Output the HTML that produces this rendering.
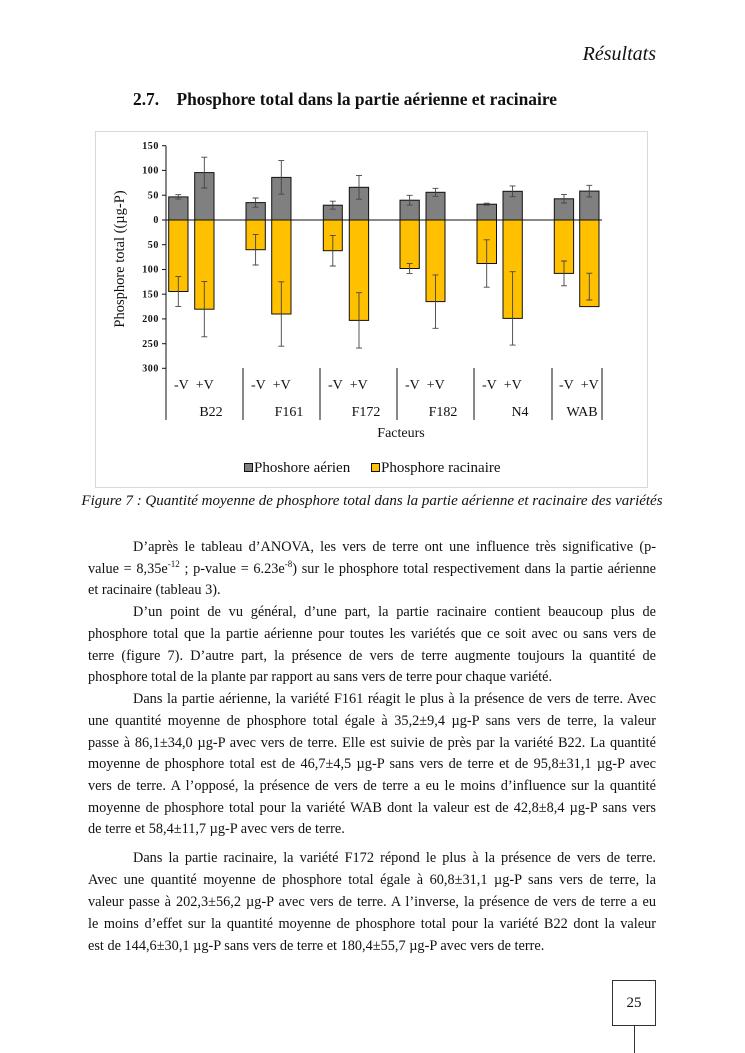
<!DOCTYPE html>
<html><head><meta charset="utf-8"><style>
body{margin:0;background:#fff;}
#p{position:relative;width:745px;height:1053px;overflow:hidden;font-family:"Liberation Serif",serif;color:#111;}
.l{position:absolute;left:88px;width:568px;font-size:14.3px;line-height:16px;text-align:justify;text-align-last:justify;white-space:nowrap;}
.l.n{text-align-last:left;}
.i{text-indent:45px;}
sup{font-size:9px;line-height:0;}
</style></head><body><div id="p">
<div style="position:absolute;right:89px;top:43px;font-size:20px;font-style:italic;">Résultats</div>
<div style="position:absolute;left:133px;top:89px;font-size:17.4px;font-weight:bold;">2.7.&nbsp;&nbsp;&nbsp;&nbsp;Phosphore total dans la partie aérienne et racinaire</div>
<svg style="position:absolute;left:0;top:0" width="745" height="520">
<rect x="95.5" y="131.5" width="552" height="356" fill="none" stroke="#d9d9d9"/>
<g font-family="Liberation Serif" font-weight="bold" font-size="10" text-anchor="end" fill="#111" letter-spacing="0.6">
<text x="159" y="149">150</text><text x="159" y="173.7">100</text><text x="159" y="198.4">50</text><text x="159" y="223.2">0</text><text x="159" y="247.9">50</text><text x="159" y="272.6">100</text><text x="159" y="297.4">150</text><text x="159" y="322.1">200</text><text x="159" y="346.8">250</text><text x="159" y="371.6">300</text>
</g>
<g stroke="#111" stroke-width="1">
<line x1="166" y1="145.7" x2="166" y2="420"/>
<line x1="162" y1="145.7" x2="166" y2="145.7"/><line x1="162" y1="170.4" x2="166" y2="170.4"/><line x1="162" y1="195.2" x2="166" y2="195.2"/><line x1="162" y1="220" x2="166" y2="220"/><line x1="162" y1="244.7" x2="166" y2="244.7"/><line x1="162" y1="269.5" x2="166" y2="269.5"/><line x1="162" y1="294.2" x2="166" y2="294.2"/><line x1="162" y1="318.9" x2="166" y2="318.9"/><line x1="162" y1="343.7" x2="166" y2="343.7"/><line x1="162" y1="368.3" x2="166" y2="368.3"/>
<line x1="243" y1="368" x2="243" y2="420"/><line x1="320" y1="368" x2="320" y2="420"/><line x1="397" y1="368" x2="397" y2="420"/><line x1="474" y1="368" x2="474" y2="420"/><line x1="552" y1="368" x2="552" y2="420"/><line x1="602" y1="368" x2="602" y2="420"/>
</g>
<g stroke="#111" stroke-width="1">
<g fill="#808080">
<rect x="168.7" y="196.9" width="19.3" height="23.1"/><rect x="194.7" y="172.6" width="19.3" height="47.4"/>
<rect x="246" y="202.6" width="19.3" height="17.4"/><rect x="271.7" y="177.4" width="19.3" height="42.6"/>
<rect x="323.3" y="205.2" width="19" height="14.8"/><rect x="349.3" y="187.3" width="19.3" height="32.7"/>
<rect x="400" y="200.2" width="19.3" height="19.8"/><rect x="426" y="192.3" width="19" height="27.7"/>
<rect x="477" y="204.2" width="19.5" height="15.8"/><rect x="503" y="191.3" width="19.3" height="28.7"/>
<rect x="554.3" y="198.8" width="19.3" height="21.2"/><rect x="579.7" y="191.1" width="19.3" height="28.9"/>
</g>
<g fill="#ffc000">
<rect x="168.7" y="220" width="19.3" height="71.5"/><rect x="194.7" y="220" width="19.3" height="89.2"/>
<rect x="246" y="220" width="19.3" height="29.7"/><rect x="271.7" y="220" width="19.3" height="94"/>
<rect x="323.3" y="220" width="19" height="30.7"/><rect x="349.3" y="220" width="19.3" height="100.4"/>
<rect x="400" y="220" width="19.3" height="48.5"/><rect x="426" y="220" width="19" height="81.6"/>
<rect x="477" y="220" width="19.5" height="43.5"/><rect x="503" y="220" width="19.3" height="98.4"/>
<rect x="554.3" y="220" width="19.3" height="53.4"/><rect x="579.7" y="220" width="19.3" height="86.6"/>
</g>
<line x1="166" y1="220" x2="602" y2="220"/>
</g>
<g stroke="#444" stroke-width="0.9" fill="none">
<path d="M178.3 194.7V199.1M175.3 194.7H181.3M175.3 199.1H181.3"/>
<path d="M204.3 157.2V188M201.3 157.2H207.3M201.3 188H207.3"/>
<path d="M255.6 198V207.2M252.6 198H258.6M252.6 207.2H258.6"/>
<path d="M281.3 160.6V194.2M278.3 160.6H284.3M278.3 194.2H284.3"/>
<path d="M332.8 201.2V209.2M329.8 201.2H335.8M329.8 209.2H335.8"/>
<path d="M359 175.4V199.2M356 175.4H362M356 199.2H362"/>
<path d="M409.6 195.3V205.1M406.6 195.3H412.6M406.6 205.1H412.6"/>
<path d="M435.5 188.3V196.3M432.5 188.3H438.5M432.5 196.3H438.5"/>
<path d="M486.7 203.2V205.2M483.7 203.2H489.7M483.7 205.2H489.7"/>
<path d="M512.6 185.9V196.7M509.6 185.9H515.6M509.6 196.7H515.6"/>
<path d="M564 194.6V203M561 194.6H567M561 203H567"/>
<path d="M589.3 185.3V196.9M586.3 185.3H592.3M586.3 196.9H592.3"/>
<path d="M178.3 276.6V306.4M175.3 276.6H181.3M175.3 306.4H181.3"/>
<path d="M204.3 281.6V336.8M201.3 281.6H207.3M201.3 336.8H207.3"/>
<path d="M255.6 234.4V265M252.6 234.4H258.6M252.6 265H258.6"/>
<path d="M281.3 281.8V346.2M278.3 281.8H284.3M278.3 346.2H284.3"/>
<path d="M332.8 235.4V266M329.8 235.4H335.8M329.8 266H335.8"/>
<path d="M359 292.7V348.1M356 292.7H362M356 348.1H362"/>
<path d="M409.6 263.6V273.4M406.6 263.6H412.6M406.6 273.4H412.6"/>
<path d="M435.5 274.9V328.3M432.5 274.9H438.5M432.5 328.3H438.5"/>
<path d="M486.7 239.8V287.2M483.7 239.8H489.7M483.7 287.2H489.7"/>
<path d="M512.6 271.7V345.1M509.6 271.7H515.6M509.6 345.1H515.6"/>
<path d="M564 261V285.8M561 261H567M561 285.8H567"/>
<path d="M589.3 273.2V300M586.3 273.2H592.3M586.3 300H592.3"/>
</g>
<text transform="translate(124,259) rotate(-90)" text-anchor="middle" font-family="Liberation Serif" font-size="14.5" fill="#111">Phosphore total ((µg-P)</text>
<g font-family="Liberation Serif" font-size="14" fill="#111">
<text x="174" y="389">-V&#160;&#160;+V</text><text x="251" y="389">-V&#160;&#160;+V</text><text x="328" y="389">-V&#160;&#160;+V</text><text x="405" y="389">-V&#160;&#160;+V</text><text x="482" y="389">-V&#160;&#160;+V</text><text x="559" y="389">-V&#160;&#160;+V</text>
<g text-anchor="middle"><text x="211" y="416">B22</text><text x="289" y="416">F161</text><text x="366" y="416">F172</text><text x="443" y="416">F182</text><text x="520" y="416">N4</text><text x="582" y="416">WAB</text>
<text x="401" y="437">Facteurs</text></g>
</g>
<g font-family="Liberation Serif" font-size="15" fill="#111">
<rect x="244.5" y="463.5" width="8" height="8" fill="#808080" stroke="#111"/><text x="254" y="472">Phoshore aérien</text>
<rect x="371.5" y="463.5" width="8" height="8" fill="#ffc000" stroke="#111"/><text x="381" y="472">Phosphore racinaire</text>
</g>
<text x="372" y="505" text-anchor="middle" font-family="Liberation Serif" font-style="italic" font-size="15" fill="#111">Figure 7 : Quantité moyenne de phosphore total dans la partie aérienne et racinaire des variétés</text>
</svg>
<div class="l i" style="top:539px">D’après le tableau d’ANOVA, les vers de terre ont une influence très significative (p-</div>
<div class="l" style="top:561px">value = 8,35e<sup>-12</sup> ; p-value = 6.23e<sup>-8</sup>) sur le phosphore total respectivement dans la partie aérienne</div>
<div class="l n" style="top:582px">et racinaire (tableau 3).</div>
<div class="l i" style="top:604px">D’un point de vu général, d’une part, la partie racinaire contient beaucoup plus de</div>
<div class="l" style="top:626px">phosphore total que la partie aérienne pour toutes les variétés que ce soit avec ou sans vers de</div>
<div class="l" style="top:648px">terre (figure 7). D’autre part, la présence de vers de terre augmente toujours la quantité de</div>
<div class="l n" style="top:669px">phosphore total de la plante par rapport au sans vers de terre pour chaque variété.</div>
<div class="l i" style="top:691px">Dans la partie aérienne, la variété F161 réagit le plus à la présence de vers de terre. Avec</div>
<div class="l" style="top:713px">une quantité moyenne de phosphore total égale à 35,2±9,4 µg-P sans vers de terre, la valeur</div>
<div class="l" style="top:735px">passe à 86,1±34,0 µg-P avec vers de terre. Elle est suivie de près par la variété B22. La quantité</div>
<div class="l" style="top:756px">moyenne de phosphore total est de 46,7±4,5 µg-P sans vers de terre et de 95,8±31,1 µg-P avec</div>
<div class="l" style="top:778px">vers de terre. A l’opposé, la présence de vers de terre a eu le moins d’influence sur la quantité</div>
<div class="l" style="top:800px">moyenne de phosphore total pour la variété WAB dont la valeur est de 42,8±8,4 µg-P sans vers</div>
<div class="l n" style="top:821px">de terre et 58,4±11,7 µg-P avec vers de terre.</div>
<div class="l i" style="top:850px">Dans la partie racinaire, la variété F172 répond le plus à la présence de vers de terre.</div>
<div class="l" style="top:872px">Avec une quantité moyenne de phosphore total égale à 60,8±31,1 µg-P sans vers de terre, la</div>
<div class="l" style="top:894px">valeur passe à 202,3±56,2 µg-P avec vers de terre. A l’inverse, la présence de vers de terre a eu</div>
<div class="l" style="top:916px">le moins d’effet sur la quantité moyenne de phosphore total pour la variété B22 dont la valeur</div>
<div class="l n" style="top:938px">est de 144,6±30,1 µg-P sans vers de terre et 180,4±55,7 µg-P avec vers de terre.</div>
<div style="position:absolute;left:612px;top:980px;width:42px;height:44px;border:1px solid #333;font-size:15px;text-align:center;line-height:44px;">25</div>
<div style="position:absolute;left:634px;top:1025px;width:1px;height:28px;background:#333;"></div>
</div></body></html>
